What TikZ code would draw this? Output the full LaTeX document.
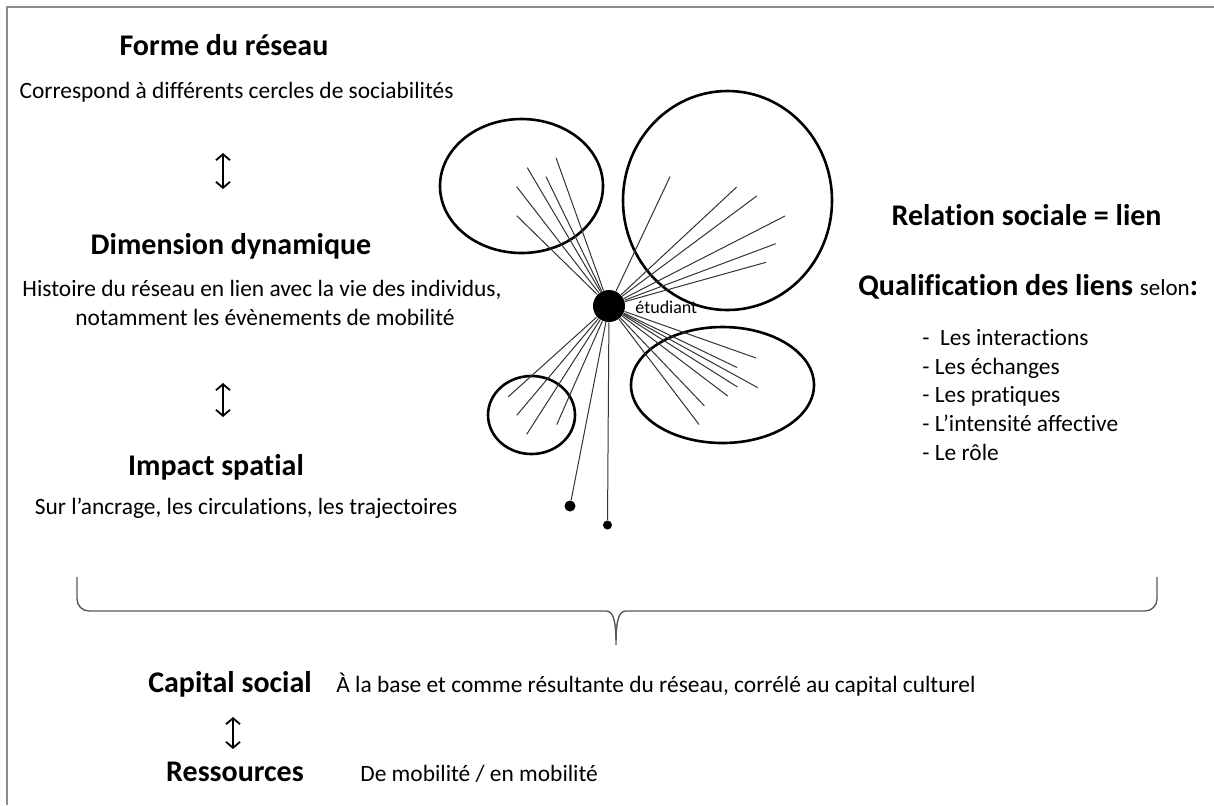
\documentclass[tikz,border=0pt]{standalone}
\usepackage{fontspec}
\setmainfont{Carlito}[Ligatures={NoCommon}]
\usetikzlibrary{arrows.meta,shapes.geometric}

\tikzset{
  titre/.style={font=\bfseries\fontsize{15}{18}\selectfont, anchor=mid, inner sep=0},
  texte/.style={font=\fontsize{11.7}{14}\selectfont, anchor=mid, inner sep=0},
  liste/.style={texte, anchor=mid west},
  cercle/.style={draw, ellipse, line width=1.3pt, inner sep=0},
  lien/.style={draw=black!80, line width=0.5pt},
  point/.style={circle, fill, inner sep=0},
  fleche/.style={{Straight Barb[length=3pt,width=7pt]}-{Straight Barb[length=3pt,width=7pt]}, line width=0.9pt},
  accolade/.style={draw=black!65, line width=0.7pt},
}

\begin{document}
\begin{tikzpicture}[x=0.5pt,y=-0.5pt]
\useasboundingbox (0,0) rectangle (1214,805);
\draw[black!45, line width=1pt] (7,805) -- (7,7) -- (1214,7);

% colonne de gauche
\node[titre] (forme) at (224,51) {Forme du réseau};
\node[texte] (forme-t) at (236.5,94) {Correspond à différents cercles de sociabilités};
\coordinate (fl1h) at (223,153);
\coordinate (fl1b) at (223,189);
\draw[fleche] (fl1h) -- (fl1b);
\node[titre] (dyn) at (231,250) {Dimension dynamique};
\node[texte] (dyn-t1) at (262,292) {Histoire du réseau en lien avec la vie des individus,};
\node[texte] (dyn-t2) at (265,321) {notamment les évènements de mobilité};
\coordinate (fl2h) at (223,383);
\coordinate (fl2b) at (223,417);
\draw[fleche] (fl2h) -- (fl2b);
\node[titre] (impact) at (216,471) {Impact spatial};
\node[texte] (impact-t) at (246,510) {Sur l’ancrage, les circulations, les trajectoires};

% reseau
\node[cercle, minimum width=81.5pt, minimum height=67pt] (c1) at (521.5,186) {};
\node[cercle, minimum width=104.5pt, minimum height=109.5pt] (c2) at (727.5,200.5) {};
\node[cercle, minimum width=91.5pt, minimum height=58pt] (c3) at (722.5,385) {};
\node[cercle, minimum width=43.5pt, minimum height=39pt] (c4) at (531.5,415) {};
\node[point, minimum size=16pt] (etud) at (609,306) {};
\node[font=\fontsize{9}{10}\selectfont, anchor=mid west, inner sep=0] (etud-l) at (635,309) {étudiant};
\foreach \px/\py [count=\i] in {516.7/186.7, 527.3/167.7, 546/176.7, 556/157.7, 516.7/215.7,
    670/176.7, 736.7/187, 756.7/196, 785/216, 775.7/243.7, 766/262.3,
    756/358, 737/367.5, 757.5/387.5, 737.5/387, 727.7/396, 704.3/405.7, 699/424.5,
    508.3/396.7, 516.7/415.3, 526.7/434.3, 556.7/424.7}
  {\coordinate (s\i) at (\px,\py);
   \draw[lien] (etud) -- (s\i);}
\node[point, minimum size=5.5pt] (p1) at (570,506) {};
\node[point, minimum size=4.5pt] (p2) at (607.5,525) {};
\draw[lien] (etud) -- (p1);
\draw[lien] (etud) -- (p2);

% colonne de droite
\node[titre] (rel) at (1026.5,221) {Relation sociale = lien};
\node[titre, anchor=mid west] (qual) at (858,291) {Qualification des liens {\mdseries\fontsize{11.5}{12}\selectfont selon}:};
\node[liste] (l1) at (922,341) {-\ \ Les interactions};
\node[liste] (l2) at (922,370) {- Les échanges};
\node[liste] (l3) at (922,398) {- Les pratiques};
\node[liste] (l4) at (922,427) {- L’intensité affective};
\node[liste] (l5) at (922,456) {- Le rôle};

% accolade
\draw[accolade] (77,577) -- (77,599) to[out=-90,in=180] (89,611) -- (606,611)
  .. controls (613,611) and (616,619) .. (616,645)
  .. controls (616,619) and (619,611) .. (626,611) -- (1145,611)
  to[out=0,in=-90] (1157,599) -- (1157,577);

% bas
\node[titre] (capital) at (230,688) {Capital social};
\node[texte, anchor=mid west] (capital-t) at (336,688) {À la base et comme résultante du réseau, corrélé au capital culturel};
\coordinate (fl3h) at (233,717);
\coordinate (fl3b) at (233,749);
\draw[fleche] (fl3h) -- (fl3b);
\node[titre] (ress) at (235,777) {Ressources};
\node[texte, anchor=mid west] (ress-t) at (360,777) {De mobilité / en mobilité};
\end{tikzpicture}
\end{document}
